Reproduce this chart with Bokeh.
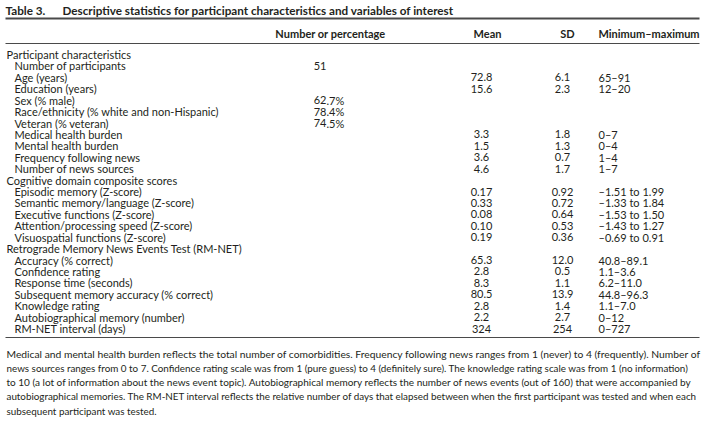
from bokeh.plotting import figure
from bokeh.models import Range1d, ColumnDataSource
from bokeh.embed import file_html
from bokeh.resources import INLINE
from bokeh.core.properties import value

# ---------------- data ----------------
table_number = "Table 3."
table_title = "Descriptive statistics for participant characteristics and variables of interest"
headers = ["Number or percentage", "Mean", "SD", "Minimum–maximum"]

row_labels = [
    "Participant characteristics",
    "Number of participants",
    "Age (years)",
    "Education (years)",
    "Sex (% male)",
    "Race/ethnicity (% white and non-Hispanic)",
    "Veteran (% veteran)",
    "Medical health burden",
    "Mental health burden",
    "Frequency following news",
    "Number of news sources",
    "Cognitive domain composite scores",
    "Episodic memory (Z-score)",
    "Semantic memory/language (Z-score)",
    "Executive functions (Z-score)",
    "Attention/processing speed (Z-score)",
    "Visuospatial functions (Z-score)",
    "Retrograde Memory News Events Test (RM-NET)",
    "Accuracy (% correct)",
    "Confidence rating",
    "Response time (seconds)",
    "Subsequent memory accuracy (% correct)",
    "Knowledge rating",
    "Autobiographical memory (number)",
    "RM-NET interval (days)",
]
is_section = [True, False, False, False, False, False, False, False, False, False, False,
              True, False, False, False, False, False,
              True, False, False, False, False, False, False, False]

number_or_pct = ["", "51", "", "", "62.7%", "78.4%", "74.5%", "", "", "", "",
                 "", "", "", "", "", "",
                 "", "", "", "", "", "", "", ""]
means = ["", "", "72.8", "15.6", "", "", "", "3.3", "1.5", "3.6", "4.6",
         "", "0.17", "0.33", "0.08", "0.10", "0.19",
         "", "65.3", "2.8", "8.3", "80.5", "2.8", "2.2", "324"]
sds = ["", "", "6.1", "2.3", "", "", "", "1.8", "1.3", "0.7", "1.7",
       "", "0.92", "0.72", "0.64", "0.53", "0.36",
       "", "12.0", "0.5", "1.1", "13.9", "1.4", "2.7", "254"]
ranges = ["", "", "65–91", "12–20", "", "", "", "0–7", "0–4", "1–4", "1–7",
          "", "–1.51 to 1.99", "–1.33 to 1.84", "–1.53 to 1.50", "–1.43 to 1.27", "–0.69 to 0.91",
          "", "40.8–89.1", "1.1–3.6", "6.2–11.0", "44.8–96.3", "1.1–7.0", "0–12", "0–727"]

footnote_lines = [
    "Medical and mental health burden reflects the total number of comorbidities. Frequency following news ranges from 1 (never) to 4 (frequently). Number of",
    "news sources ranges from 0 to 7. Confidence rating scale was from 1 (pure guess) to 4 (definitely sure). The knowledge rating scale was from 1 (no information)",
    "to 10 (a lot of information about the news event topic). Autobiographical memory reflects the number of news events (out of 160) that were accompanied by",
    "autobiographical memories. The RM-NET interval reflects the relative number of days that elapsed between when the first participant was tested and when each",
    "subsequent participant was tested.",
]

# ---------------- layout / style (page-pixel coordinates) ----------------
FONT = value("Lato")
TXT = "#231f20"
RULE = "#4a4a4a"
FS = "11px"
FS_TITLE = "11.7px"
# per-line sizes so the justified lines of the note reach the right margin
note_sizes = ["10.3px", "9.85px", "10.02px", "9.83px", "9.85px"]

left = 6
right = 699
indent = 14
y_title = 9.5
y_rule_top = 18
y_head = 32.5
y_rule_head = 43
y_row0 = 54
dy_row = 11.42
y_rule_bot = 337
y_note0 = 353
dy_note = 14.3

x_num_dec = 326
x_mean = 481
x_sd = 562
x_range_col = 598

p = figure(width=705, height=424, x_range=Range1d(0, 705), y_range=Range1d(424, 0),
           output_backend="svg", toolbar_location=None, min_border=0)
p.axis.visible = False
p.grid.visible = False
p.outline_line_color = None
p.background_fill_color = "white"
p.border_fill_color = "white"

# title
p.text(x=[left - 1], y=[y_title], text=[table_number], text_font=FONT, text_font_size=FS_TITLE,
       text_font_style="bold", text_color=TXT, text_baseline="middle", text_align="left")
p.text(x=[62], y=[y_title], text=[table_title], text_font=FONT, text_font_size=FS_TITLE,
       text_font_style="bold", text_color=TXT, text_baseline="middle", text_align="left")

# rules
p.segment(x0=[left - 1], x1=[right], y0=[y_rule_top], y1=[y_rule_top], line_color=RULE, line_width=2)
p.segment(x0=[left - 1, left - 1], x1=[right, right], y0=[y_rule_head, y_rule_bot],
          y1=[y_rule_head, y_rule_bot], line_color=RULE, line_width=1.2)

# header
head_x = [330, 487, 567, x_range_col]
head_align = ["center", "center", "center", "left"]
hsrc = ColumnDataSource(dict(x=head_x, y=[y_head] * 4, t=headers, a=head_align))
p.text(x="x", y="y", text="t", text_align="a", source=hsrc, text_font=FONT,
       text_font_size=FS, text_font_style="bold", text_color=TXT, text_baseline="middle")

# rows
n = len(row_labels)
ys = [y_row0 + i * dy_row for i in range(n)]
xs = [left if s else indent for s in is_section]
rsrc = ColumnDataSource(dict(x=xs, y=ys, t=row_labels))
p.text(x="x", y="y", text="t", source=rsrc, text_font=FONT, text_font_size=FS,
       text_color=TXT, text_baseline="middle", text_align="left")

# number / percentage column, aligned on the decimal point
int_parts = [s.split(".")[0] for s in number_or_pct]
frac_parts = [("." + s.split(".", 1)[1]) if "." in s else "" for s in number_or_pct]
for parts, al in [(int_parts, "right"), (frac_parts, "left")]:
    src = ColumnDataSource(dict(x=[x_num_dec] * n, y=ys, t=parts))
    p.text(x="x", y="y", text="t", source=src, text_font=FONT, text_font_size=FS,
           text_color=TXT, text_baseline="middle", text_align=al)

for col, xc, al in [(means, x_mean, "center"), (sds, x_sd, "center"),
                    (ranges, x_range_col, "left")]:
    src = ColumnDataSource(dict(x=[xc] * n, y=ys, t=col))
    p.text(x="x", y="y", text="t", source=src, text_font=FONT, text_font_size=FS,
           text_color=TXT, text_baseline="middle", text_align=al)

# footnote
for i, (line, fs) in enumerate(zip(footnote_lines, note_sizes)):
    p.text(x=[left], y=[y_note0 + i * dy_note], text=[line], text_font=FONT,
           text_font_size=fs, text_color=TXT, text_baseline="middle", text_align="left")

open("out.html", "w").write(file_html(p, INLINE))
